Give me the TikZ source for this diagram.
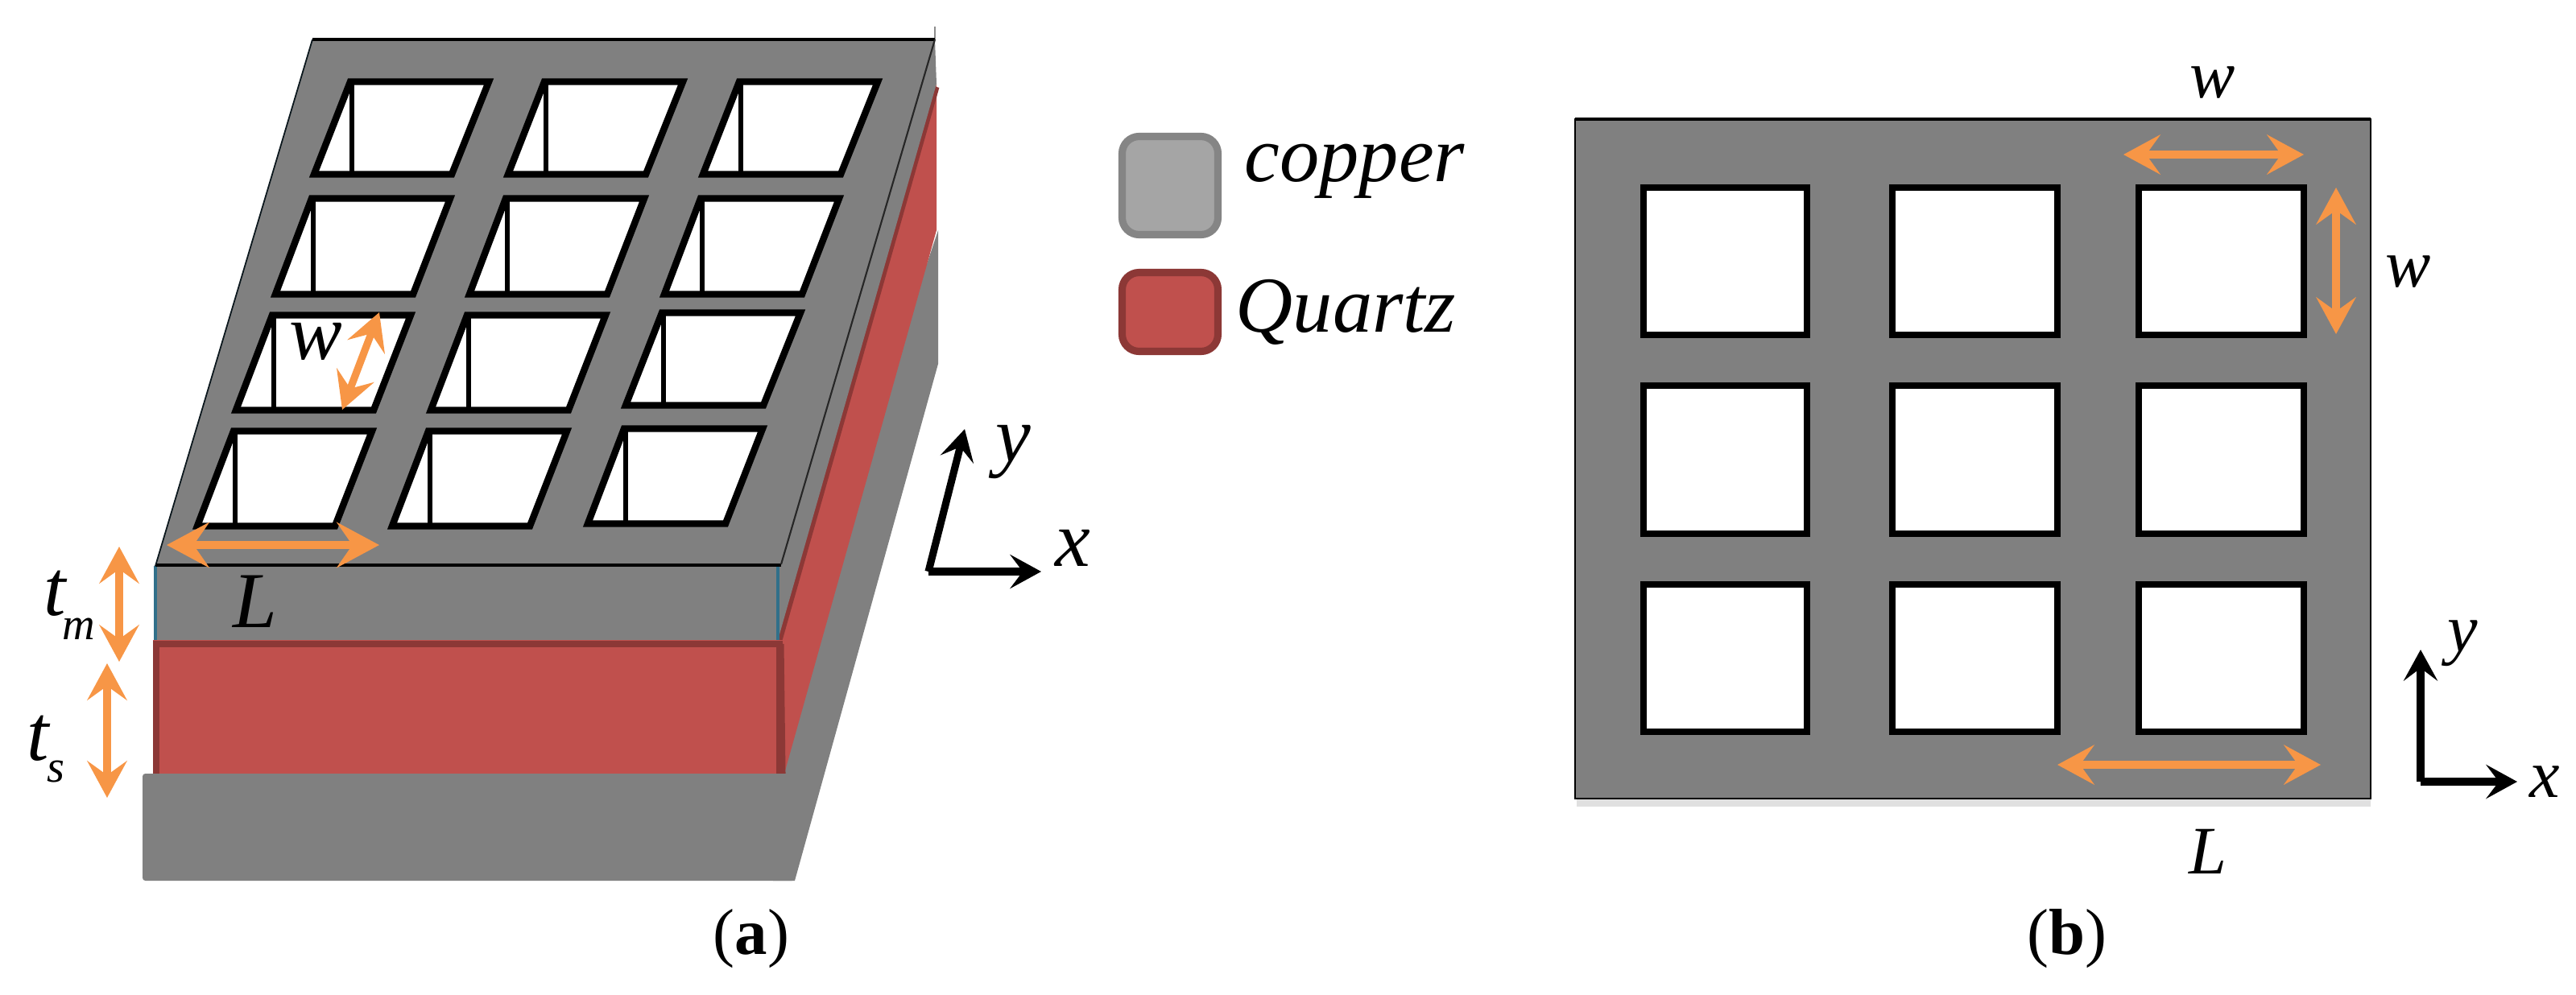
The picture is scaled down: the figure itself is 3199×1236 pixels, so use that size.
\documentclass[tikz,border=0pt]{standalone}
\usepackage{fontspec}
\setmainfont{Liberation Serif}
\usetikzlibrary{arrows.meta}
\definecolor{plategray}{HTML}{808080}
\definecolor{quartzred}{HTML}{C0504D}
\definecolor{quartzdark}{HTML}{8C3836}
\definecolor{dimorange}{HTML}{F79646}
\definecolor{copperfill}{HTML}{A5A5A5}
\definecolor{copperedge}{HTML}{858585}
\definecolor{edgeteal}{HTML}{31708A}
\tikzset{
  windowbox/.style={fill=white,draw=black,line width=2.4pt,miter limit=4},
  windowstem/.style={draw=black,line width=1.8pt},
  dimarrow/.style={draw=dimorange,line width=2.6pt,{Stealth[length=13pt,width=14pt,inset=5pt]}-{Stealth[length=13pt,width=14pt,inset=5pt]}},
  dimbig/.style={draw=dimorange,line width=3pt,{Stealth[length=15pt,width=16pt,inset=5.5pt]}-{Stealth[length=15pt,width=16pt,inset=5.5pt]}},
  dimshadow/.style={draw=black,opacity=.18,line width=2.8pt,shorten >=6pt,shorten <=6pt},
  axisarrow/.style={draw=black,line width=2.6pt,-{Stealth[length=11pt,width=12pt,inset=4.5pt]}},
  mathlabel/.style={inner sep=0pt,font=\fontsize{24}{24}\selectfont\itshape},
  mathbig/.style={inner sep=0pt,font=\fontsize{28}{28}\selectfont\itshape},
  subscriptlabel/.style={inner sep=0pt,font=\fontsize{16}{16}\selectfont\itshape},
  legendlabel/.style={inner sep=0pt,anchor=base west,font=\fontsize{28}{28}\selectfont\itshape},
  captionlabel/.style={inner sep=0pt,font=\fontsize{23}{23}\selectfont},
  legendbox/.style={line width=2.6pt,rounded corners=6pt},
}
\begin{document}
\begin{tikzpicture}[x=0.01cm,y=-0.01cm]
\useasboundingbox (0,0) rectangle (3199,1236);
% ---------- panel (a): side faces
\fill[plategray] (1165,286) -- (1165,452) -- (987,1094) -- (960,1094) -- (960,900) -- cycle;
\fill[quartzred] (1163,104) -- (1163,286) -- (974,961) -- (966,961) -- (966,795) -- cycle;
\draw[quartzdark,line width=2pt] (1163,108) -- (968,795);
\draw[quartzdark,line width=2pt] (970,800) -- (972,961);
\fill[plategray] (1161,49) -- (1163,104) -- (966,795) -- (966,703) -- (970,701) -- cycle;
\draw[black!45,line width=.6pt] (1161,49) -- (1161,33);
% quartz front
\fill[quartzred] (190,795) rectangle (972,961);
\draw[quartzdark,line width=2.5pt] (194,961) -- (194,800) -- (968,800) -- (968,961);
% metal front
\fill[plategray] (193,703) rectangle (966,795);
\draw[edgeteal,line width=1.1pt] (193,703) -- (193,795);
\draw[edgeteal,line width=1.1pt] (966,703) -- (966,795);
% base
\fill[plategray,rounded corners=1pt] (177,961) -- (1006,961) -- (987,1094) -- (177,1094) -- cycle;
% top plate
\fill[plategray] (388,49) -- (1161,49) -- (970,701) -- (193,703) -- cycle;
\draw[black,line width=1.1pt] (388,49) -- (1161,49);
\draw[black,line width=1.1pt] (193,702) -- (970,702);
\draw[black!80!edgeteal,line width=.5pt] (388,49) -- (193,703);
\draw[black!85,line width=.6pt] (1161,49) -- (970,701);
% windows
\foreach \wx/\wy/\wb in {431/97/221,672/97/221,914/97/221,
                         383/242/370,624/242/370,866/242/370,
                         334/387/514,576/387/514,818/384/508,
                         286/531/658,528/531/658,771/528/655}{
  \draw[windowbox] (\wx+4,\wy+4.5) -- (\wx+176,\wy+4.5) -- (\wx+130,\wb-4.5) -- (\wx-41,\wb-4.5) -- cycle;
  \draw[windowstem] (\wx+6,\wy+4) -- (\wx+6,\wb-1);
}
% ---------- panel (a): dimensions
\coordinate (aLl) at (207,677); \coordinate (aLr) at (471,677);
\coordinate (tmt) at (148,679); \coordinate (tmb) at (148,822);
\coordinate (tst) at (133,824); \coordinate (tsb) at (133,991);
\coordinate (awt) at (471,388); \coordinate (awb) at (425,509);
\draw[dimshadow,yshift=-.1cm] (aLl) -- (aLr);
\draw[dimbig] (aLl) -- (aLr);
\draw[dimarrow] (tmt) -- (tmb);
\draw[dimarrow] (tst) -- (tsb);
\draw[dimarrow] (awt) -- (awb);
\node[mathbig] (labAw) at (392,424) {w};
\node[mathbig] (labAL) at (317,747) {L};
\node[mathbig] (labTm) at (68,737) {t};
\node[subscriptlabel] (labTmSub) at (98,781) {m};
\node[mathbig] (labTs) at (47,917) {t};
\node[subscriptlabel] (labTsSub) at (69,959) {s};
% axes (a)
\coordinate (aO) at (1153,710);
\coordinate (aY) at (1198,533);
\coordinate (aX) at (1293,710);
\draw[axisarrow] (aO) -- (aY);
\draw[axisarrow] (aO) -- (aX);
\node[mathbig] (labAy) at (1258,562) {y};
\node[mathbig] (labAx) at (1332,681) {x};
\node[captionlabel] (capA) at (933,1166) {(\textbf{a})};
% ---------- legend
\draw[legendbox,fill=copperfill,draw=copperedge] (1393.5,169.5) rectangle (1512.5,291.5);
\draw[legendbox,fill=quartzred,draw=quartzdark] (1393.5,338.5) rectangle (1512.5,436.5);
\node[legendlabel] (legCopper) at (1545,225) {copper};
\node[legendlabel] (legQuartz) at (1534,412) {Quartz};
% ---------- panel (b)
\fill[black,opacity=.12] (1958,992) rectangle (2944,1002);
\fill[plategray] (1956,148) rectangle (2944,992);
\draw[black,line width=.8pt] (1956,992) -- (1956,148) -- (2944,148) -- (2944,992) -- cycle;
\draw[black,line width=1.1pt] (1956,148) -- (2944,148);
\foreach \wx/\wr in {2037/2248,2346/2559,2652/2865}{
  \foreach \wt/\wb in {229/420,475/667,722/913}{
    \draw[windowbox] (\wx+4,\wt+4) rectangle (\wr-4,\wb-4);
  }
}
\coordinate (bw1l) at (2637,192); \coordinate (bw1r) at (2861,192);
\coordinate (bw2t) at (2901,233); \coordinate (bw2b) at (2901,415);
\coordinate (bLl) at (2555,950); \coordinate (bLr) at (2882,950);
\draw[dimshadow,yshift=-.05cm] (bw1l) -- (bw1r);
\draw[dimshadow,yshift=-.05cm] (bLl) -- (bLr);
\draw[dimarrow] (bw1l) -- (bw1r);
\draw[dimarrow] (bw2t) -- (bw2b);
\draw[dimarrow] (bLl) -- (bLr);
\node[mathlabel] (labBw1) at (2748,103) {w};
\node[mathlabel] (labBw2) at (2991,338) {w};
\node[mathlabel] (labBL) at (2742,1058) {L};
\coordinate (bO) at (3006,971);
\coordinate (bY) at (3006,807);
\coordinate (bX) at (3126,971);
\draw[axisarrow] (bO) -- (bY);
\draw[axisarrow] (bO) -- (bX);
\node[mathlabel] (labBy) at (3058,799) {y};
\node[mathlabel] (labBx) at (3160,971) {x};
\node[captionlabel] (capB) at (2567,1166) {(\textbf{b})};
\end{tikzpicture}
\end{document}
